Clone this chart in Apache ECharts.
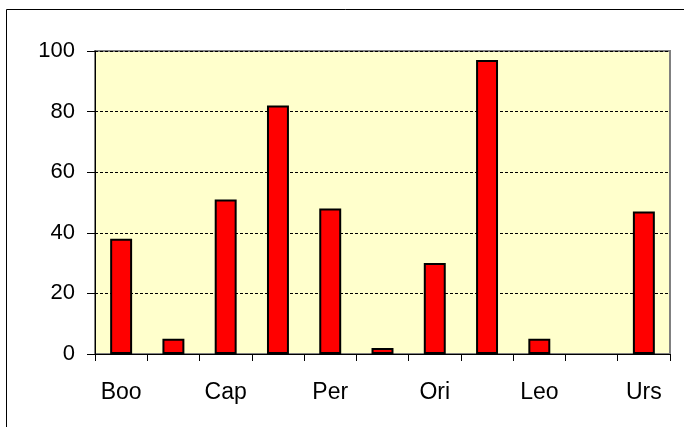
<!DOCTYPE html>
<html>
<head>
<meta charset="utf-8">
<script src="https://cdn.jsdelivr.net/npm/echarts@6/dist/echarts.min.js"></script>
<style>html,body{margin:0;padding:0;background:#fff}#c{width:684px;height:427px}</style>
</head>
<body>
<div id="c"></div>
<script>
var categories = ['Boo', '', 'Cap', '', 'Per', '', 'Ori', '', 'Leo', '', 'Urs'];
var values = [38, 5, 51, 82, 48, 2, 30, 97, 5, 0, 47];
var yTicks = [0, 20, 40, 60, 80, 100];

var chart = echarts.init(document.getElementById('c'), null, {renderer: 'canvas'});
chart.setOption({
  animation: false,
  backgroundColor: '#ffffff',
  graphic: [{
    type: 'rect',
    shape: {x: 6.5, y: 9.5, width: 700, height: 500},
    style: {fill: 'none', stroke: '#000', lineWidth: 1},
    z: -10
  }],
  grid: {
    left: 95, right: 14, top: 51, bottom: 73,
    show: true, backgroundColor: '#FFFFCC', borderColor: '#808080', borderWidth: 2
  },
  xAxis: {
    type: 'category',
    data: categories,
    boundaryGap: true,
    axisLine: {show: true, lineStyle: {color: '#000', width: 1}},
    axisTick: {show: true, alignWithLabel: false, interval: 0, length: 7, lineStyle: {color: '#000'}},
    axisLabel: {interval: 1, margin: 27, fontFamily: 'Liberation Sans, Arial', fontSize: 23, color: '#000'},
    splitLine: {show: false}
  },
  yAxis: {
    type: 'value',
    min: yTicks[0], max: yTicks[yTicks.length - 1], interval: 20,
    axisLine: {show: true, lineStyle: {color: '#000', width: 1}},
    axisTick: {show: true, length: 8, lineStyle: {color: '#000'}},
    axisLabel: {margin: 20, fontFamily: 'Liberation Sans, Arial', fontSize: 22, color: '#000'},
    splitLine: {show: true, lineStyle: {color: '#000', width: 1, type: [3, 2]}}
  },
  series: [{
    type: 'bar',
    data: values.map(function (v) {
      return v === 0 ? {value: v, itemStyle: {borderWidth: 0}} : v;
    }),
    barWidth: '42%',
    itemStyle: {color: '#FF0000', borderColor: '#000', borderWidth: 2}
  }]
});
</script>
</body>
</html>
